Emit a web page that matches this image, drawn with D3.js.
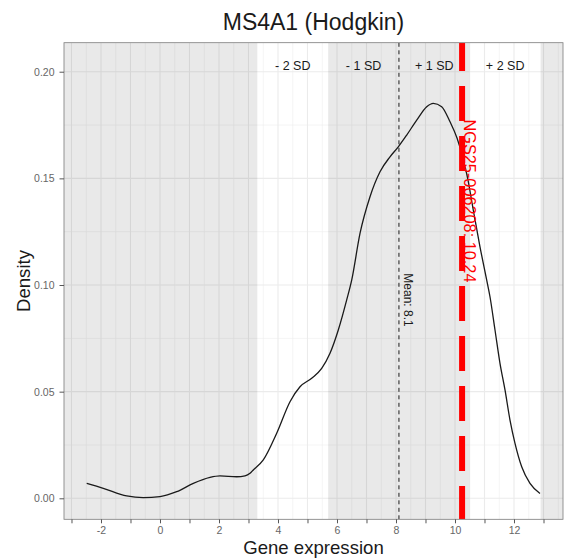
<!DOCTYPE html>
<html><head><meta charset="utf-8">
<script src="https://cdn.jsdelivr.net/npm/d3@7"></script>
<style>
body{margin:0;background:#fff}
text{font-family:"Liberation Sans",Arial,Helvetica,sans-serif}
</style>
</head><body>
<svg id="chart" width="568" height="560"></svg>
<script>
// ---------------- data ----------------
const chartTitle = "MS4A1 (Hodgkin)";
const xTitle = "Gene expression";
const yTitle = "Density";
const curveX = [-2.485,-1.922,-1.129,-0.566,0.000,0.566,1.129,1.695,2.034,2.600,2.881,3.051,3.163,3.502,3.956,4.407,4.746,5.142,5.481,5.763,6.044,6.329,6.498,6.780,7.119,7.458,7.797,8.078,8.363,8.702,9.041,9.264,9.549,9.831,10.068,10.271,10.441,10.620,10.847,11.075,11.186,11.356,11.525,11.695,11.864,12.034,12.261,12.542,12.881];
const curveY = [0.0070,0.0047,0.0011,0.0003,0.0008,0.0031,0.0070,0.0098,0.0105,0.0101,0.0105,0.0117,0.0133,0.0180,0.0305,0.0453,0.0523,0.0563,0.0609,0.0680,0.0789,0.0930,0.1023,0.1242,0.1414,0.1531,0.1601,0.1648,0.1703,0.1773,0.1836,0.1852,0.1836,0.1765,0.1689,0.1595,0.1492,0.1351,0.1179,0.1023,0.0945,0.0789,0.0633,0.0508,0.0367,0.0258,0.0148,0.0070,0.0023];
const meanValue = 8.1;
const sdValue = 2.4;
const sampleName = "NGS25-006208";
const sampleValue = 10.24;
const sdLabels = ["- 2 SD","- 1 SD","+ 1 SD","+ 2 SD"];
const sdLabelOffsets = [-1.5,-0.5,0.5,1.5];
const xTickValues = [-3,-2,-1,0,1,2,3,4,5,6,7,8,9,10,11,12,13];
const xTickLabels = ["","-2","","0","","2","","4","","6","","8","","10","","12",""];
const yTickValues = [0,0.05,0.10,0.15,0.20];
const yTickLabels = ["0.00","0.05","0.10","0.15","0.20"];

// ---------------- layout ----------------
const W = 568, H = 560;
const L = 64, R = 563, T = 42.7, B = 519.3;
const svg = d3.select("#chart");

const x = d3.scaleLinear().domain([-3.254, 13.661]).range([L, R]);
const y = d3.scaleLinear().domain([-0.00984, 0.2136]).range([B, T]);

svg.append("rect").attr("width", W).attr("height", H).attr("fill", "#fff");
svg.append("defs").append("clipPath").attr("id","clip")
  .append("rect").attr("x", L).attr("y", T).attr("width", R-L).attr("height", B-T);

const panel = svg.append("g").attr("clip-path","url(#clip)");

// grid
const xMinor = d3.range(-3.5, 14, 1);
const yMinor = [0.025,0.075,0.125,0.175];
const gridCol = "#EBEBEB";
panel.selectAll(".vminor").data(xMinor).join("line")
  .attr("x1", d=>x(d)).attr("x2", d=>x(d)).attr("y1", T).attr("y2", B)
  .attr("stroke", gridCol).attr("stroke-width", 0.55);
panel.selectAll(".hminor").data(yMinor).join("line")
  .attr("y1", d=>y(d)).attr("y2", d=>y(d)).attr("x1", L).attr("x2", R)
  .attr("stroke", gridCol).attr("stroke-width", 0.55);
panel.selectAll(".vmajor").data(xTickValues).join("line")
  .attr("x1", d=>x(d)).attr("x2", d=>x(d)).attr("y1", T).attr("y2", B)
  .attr("stroke", gridCol).attr("stroke-width", 1.1);
panel.selectAll(".hmajor").data(yTickValues).join("line")
  .attr("y1", d=>y(d)).attr("y2", d=>y(d)).attr("x1", L).attr("x2", R)
  .attr("stroke", gridCol).attr("stroke-width", 1.1);

// gray bands: outside 2 SD and within 1 SD
const bands = [
  [-100, meanValue - 2*sdValue],
  [meanValue - sdValue, meanValue + sdValue],
  [meanValue + 2*sdValue, 100]
];
panel.selectAll(".band").data(bands).join("rect")
  .attr("x", d=>x(d[0])).attr("width", d=>x(d[1])-x(d[0]))
  .attr("y", T).attr("height", B-T)
  .attr("fill", "#000").attr("fill-opacity", 0.085);

// density curve
const pts = curveX.map((v,i)=>[v, curveY[i]]);
panel.append("path").datum(pts)
  .attr("d", d3.line().x(d=>x(d[0])).y(d=>y(d[1])).curve(d3.curveMonotoneX))
  .attr("fill","none").attr("stroke","#1a1a1a").attr("stroke-width",1.3);

// mean line
panel.append("line")
  .attr("x1", x(meanValue)).attr("x2", x(meanValue)).attr("y1", B).attr("y2", T)
  .attr("stroke","#1a1a1a").attr("stroke-width",1).attr("stroke-dasharray","4,3.5");

// sample line
panel.append("line")
  .attr("x1", x(sampleValue)).attr("x2", x(sampleValue)).attr("y1", B).attr("y2", T)
  .attr("stroke","#FF0000").attr("stroke-width",6)
  .attr("stroke-dasharray","35,15").attr("stroke-dashoffset",1.7);

// SD labels
svg.selectAll(".sdl").data(sdLabels).join("text")
  .attr("x", (d,i)=>x(meanValue + sdLabelOffsets[i]*sdValue))
  .attr("y", 69.5)
  .attr("text-anchor","middle").attr("font-size","12.5px").attr("fill","#1a1a1a")
  .text(d=>d);

// mean label (rotated)
svg.append("text")
  .attr("transform", `translate(${x(meanValue)+5},300) rotate(90)`)
  .attr("text-anchor","middle").attr("font-size","12px").attr("fill","#1a1a1a")
  .text("Mean: " + meanValue);

// sample label (rotated)
svg.append("text")
  .attr("transform", `translate(${x(sampleValue)+1.5},201) rotate(90)`)
  .attr("text-anchor","middle").attr("font-size","16.3px").attr("fill","#FF0000")
  .text(sampleName + ": " + sampleValue);

// panel border
svg.append("rect").attr("x", L).attr("y", T).attr("width", R-L).attr("height", B-T)
  .attr("fill","none").attr("stroke","#7a7a7a").attr("stroke-width",0.8);

// axes
const xAxis = svg.append("g").attr("transform", `translate(0,${B})`)
  .call(d3.axisBottom(x).tickValues(xTickValues).tickFormat((d,i)=>xTickLabels[i]).tickSize(4).tickPadding(3.5));
const yAxis = svg.append("g").attr("transform", `translate(${L},0)`)
  .call(d3.axisLeft(y).tickValues(yTickValues).tickFormat((d,i)=>yTickLabels[i]).tickSize(4.5).tickPadding(5));
[xAxis, yAxis].forEach(a=>{
  a.select(".domain").remove();
  a.selectAll(".tick line").attr("stroke","#555");
  a.selectAll(".tick text").attr("fill","#666").attr("font-size","10.5px")
    .attr("font-family",'"Liberation Sans",Arial,sans-serif');
});

// titles
svg.append("text").attr("x", (L+R)/2).attr("y", 29.5).attr("text-anchor","middle")
  .attr("font-size","23px").attr("fill","#1a1a1a").text(chartTitle);
svg.append("text").attr("x", (L+R)/2).attr("y", 554).attr("text-anchor","middle")
  .attr("font-size","18.6px").attr("fill","#1a1a1a").text(xTitle);
svg.append("text").attr("transform", `translate(29.5,${(T+B)/2}) rotate(-90)`)
  .attr("text-anchor","middle").attr("font-size","18.6px").attr("fill","#1a1a1a").text(yTitle);
</script>
</body></html>
